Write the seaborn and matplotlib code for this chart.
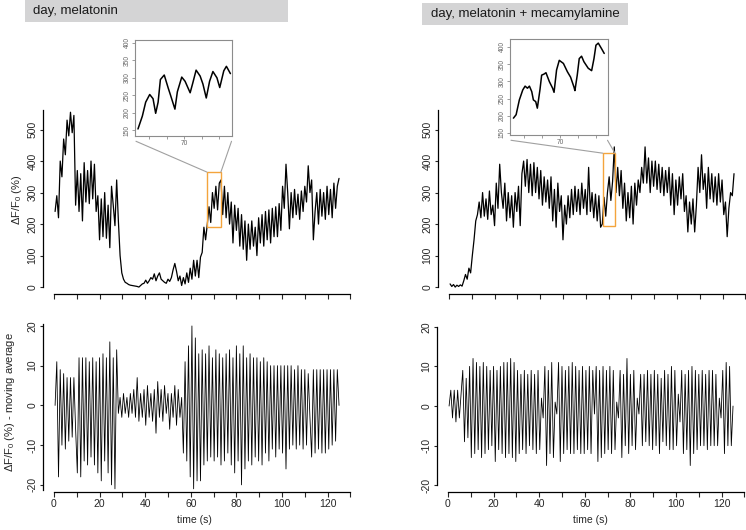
import matplotlib
matplotlib.use("Agg")
import matplotlib.pyplot as plt
from matplotlib.patches import Rectangle, ConnectionPatch
import numpy as np
import seaborn as sns

# traces are sampled every 0.75 s starting at 0.5 s (alternating peak / trough)
t_start = 0.5
t_step = 0.75

# ΔF/F0 (%), day, melatonin
mel_trace = [
    240, 290, 220, 400, 350, 470, 420, 530, 480, 555, 490, 545,
    260, 370, 240, 360, 210, 395, 270, 370, 265, 400, 280, 390, 240,
    290, 150, 280, 160, 300, 155, 260, 125, 320, 260, 195, 340,
    210, 100, 45, 25, 15, 12, 8, 6, 5, 4, 3, 2, 0, 5, 10, 12, 22, 12, 20, 30,
    25, 42, 20, 35, 45, 25, 20, 15, 12, 25, 18, 30, 55, 75, 50, 20, 35, 5, 30, 10,
    45, 15, 60, 25, 85, 35, 85, 30, 95, 110, 190, 150,
    200, 255, 205, 300, 250, 320, 245, 330,
    340, 230, 320, 220, 300, 200, 270, 140, 260, 180, 250, 130, 230, 120, 210, 85,
    200, 120, 210, 130, 190, 100,
    220, 140, 230, 130, 240, 150, 245, 140, 250, 160, 255, 160, 265, 180, 320, 250,
    390, 300, 185,
    300, 220, 310, 230, 295, 215, 305, 240, 320, 270, 385, 300, 340, 150,
    240, 300, 200, 310, 225, 300, 215, 320, 230, 310, 220, 330, 250, 320, 345,
]

# ΔF/F0 (%), day, melatonin + mecamylamine
mec_trace = [
    10, 2, 8, 0, 6, 2, 7, 3,
    20, 40, 25, 60, 45, 100, 150, 210, 230,
    270, 220, 300, 225, 280, 215, 305, 230, 260, 195, 330, 250, 390,
    300, 250, 330, 210, 300, 220, 290, 190, 300, 240, 320, 195,
    360, 400, 320, 405, 300, 390, 290, 395, 300, 380, 280, 370,
    260, 350, 270, 340, 250, 350, 210, 310, 190, 330, 240, 290,
    150, 260, 200, 290, 220, 310, 230, 320, 240, 310, 230, 330, 250, 310, 230, 380,
    240, 300, 220, 295, 210, 290, 190,
    200, 285, 225, 300, 350, 275, 335, 445,
    300, 380, 290, 370, 250, 330, 210, 300, 220, 320, 200, 330, 260, 340, 300, 380, 330,
    445, 330, 410, 300, 400, 320, 400, 310, 390, 300, 380, 290, 370, 300, 380, 260,
    360, 230, 340, 260, 350, 280, 360, 240, 290, 175, 270, 200, 280, 175, 260,
    380, 300, 420, 310, 360, 250, 380, 280, 360, 270, 350, 260, 360, 270, 340, 230,
    270, 160, 250, 300, 290, 360,
]

# ΔF/F0 (%) - moving average, melatonin
mel_detr = [
    0, 11, -18, 9, -10, 8, -11, 7, -9, 7, -8, 7, -6,
    -17, 12, -18, 12, -14, 12, -15, 11, -13, 12, -15, 11, -17, 12, -19, 13,
    -14, 12, -17, 16, -20, 12, -21, 14,
    -2, 2, -3, 3, -2, 2, -3, 3, -2, 4, -3, 7, -4, 3, -3, 4, -5, 5, -3, 3,
    -4, 4, -7, 6, -3, 4, -4, 5, -2, 3, -6, 3, -3, 5, -5, 4, -3, 2, -12, 11,
    -14, 15, -18, 20, -21, 17, -19, 13, -19, 14, -15, 13, -14, 15, -13, 12,
    -14, 14, -13, 13, -15, 12, -14, 13, -12, 14, -15, 12, -17, 15, -14, 13,
    -20, 15, -16, 12, -14, 13, -15, 12, -13, 12, -14, 11, -15, 12, -12, 11,
    -14, 10, -11, 10, -13, 10, -11, 10, -12,
    10, -16, 10, -11, 10, -10, 9, -11, 10, -10, 9, -11, 9, -10, 8, -3,
    -13, 9, -12, 9, -11, 9, -12, 9, -12, 9, -11, 9, -10, 9, -9, 9, 0,
]

# ΔF/F0 (%) - moving average, melatonin + mecamylamine
mec_detr = [
    0, 4, -3, 4, -4, 4, -3, 3,
    9, -9, 7, -8, 10, -13,
    12, -12, 11, -11, 10, -13, 11, -12, 10, -11,
    9, -10, 10, -14, 9, -11, 10, -12, 11, -13,
    11, -12, 12, -13, 11, -14, 9, -12, 8, -11,
    9, -12, 8, -10, 9, -11, 8, -12, 9, -11,
    2, -3, 10, -15, 9, -12, 11, -13, 1, -2,
    11, -14, 10, -12, 9, -11, 10, -12, 11, -12,
    10, -11, 9, -12, 10, -12, 9, -11, 10, -12,
    9, -2, 10, -14, 9, -13, 10, -12, 9, -11,
    10, -12, 9, -11, 1, -3, 9, -13, 8, -10,
    12, -12, 8, -10, 9, -11, 2, -2, 8, -10,
    8, -9, 9, -10, 8, -11, 9, -10, 8, -12,
    7, -9, 9, -10, 8, -11, 10, -11, 9, -10,
    3, -4, 9, -12, 8, -11, 9, -15, 10, -12,
    9, -11, 8, -10, 9, -10, 8, -11, 9, -10,
    9, -10, 8, -10, 2, -3, 9, -12, 11, -10,
    10, -10, 0,
]

# zoomed segments shown in the insets
mel_zoom_t = [67.37, 67.62, 67.81, 68.04, 68.23, 68.38, 68.52, 68.65, 68.87, 69.10,
              69.23, 69.48, 69.62, 69.87, 70.06, 70.35, 70.50, 70.69, 70.92, 71.08,
              71.27, 71.46, 71.65, 71.88, 72.04, 72.27, 72.42, 72.65]
mel_zoom_v = [153, 190, 230, 252, 240, 198, 230, 295, 308, 270,
              250, 210, 260, 302, 290, 257, 285, 322, 305, 282,
              242, 290, 318, 300, 272, 320, 333, 312]
mec_zoom_t = [67.41, 67.56, 67.74, 67.93, 68.06, 68.19, 68.30, 68.43, 68.52, 68.65,
              68.74, 68.89, 68.98, 69.11, 69.22, 69.41, 69.59, 69.67, 69.81, 69.96,
              70.19, 70.41, 70.59, 70.78, 70.83, 70.96, 71.07, 71.20, 71.33, 71.57,
              71.76, 71.89, 72.00, 72.13, 72.31, 72.46]
mec_zoom_v = [193, 203, 246, 275, 286, 280, 286, 270, 246, 241,
              222, 277, 318, 321, 325, 299, 280, 268, 333, 361,
              352, 328, 312, 283, 273, 318, 366, 373, 357, 338,
              331, 366, 405, 411, 395, 381]

# zoom windows (t0, t1, v0, v1)
mel_window = (67.1, 73.2, 190, 365)
mec_window = (67.5, 72.8, 194, 425)

W, H = 746, 530
sns.set_style("ticks")
plt.rcParams['font.family'] = ['Liberation Sans', 'DejaVu Sans']
plt.rcParams['mathtext.fontset'] = 'custom'
plt.rcParams['mathtext.rm'] = 'Liberation Sans'

fig = plt.figure(figsize=(W / 100, H / 100), dpi=100)


def px_rect(x0, y0, x1, y1):
    return [x0 / W, 1 - y1 / H, (x1 - x0) / W, (y1 - y0) / H]


def style_main(ax, ylim, ybounds, yticks, xlabels):
    sns.despine(ax=ax)
    ax.set_xlim(-4.8, 131)
    ax.set_ylim(*ylim)
    ax.spines['left'].set_bounds(*ybounds)
    ax.spines['bottom'].set_bounds(0, 130)
    for s in ('left', 'bottom'):
        ax.spines[s].set_linewidth(0.9)
        ax.spines[s].set_color('black')
    ax.set_xticks(np.arange(0, 131, 10))
    if xlabels:
        ax.set_xticklabels([str(v) if v % 20 == 0 else '' for v in range(0, 131, 10)])
    else:
        ax.set_xticklabels([])
    ax.set_yticks(yticks)
    ax.set_yticklabels([str(v) for v in yticks])
    ax.tick_params(axis='x', length=3.5, width=0.8, pad=1.5, labelsize=7.5)
    ax.tick_params(axis='y', length=2.5, width=0.8, pad=1.5, labelsize=7.5, labelrotation=90)
    for lab in ax.get_yticklabels():
        lab.set_va('center')
    ax.set_xlabel('')
    ax.set_ylabel('')


def add_inset(ax, rect, zt, zv, xlim, ylim, window):
    ins = fig.add_axes(px_rect(*rect))
    sns.lineplot(x=zt, y=zv, ax=ins, color='black', linewidth=1.1,
                 estimator=None, sort=False)
    ins.set_xlim(*xlim)
    ins.set_ylim(*ylim)
    ins.set_xticks([68, 69, 70, 71, 72])
    ins.set_xticklabels(['', '', '70', '', ''])
    ins.set_yticks(range(150, 401, 50))
    for s in ins.spines.values():
        s.set_visible(True)
        s.set_color('#8c8c8c')
        s.set_linewidth(0.8)
    ins.tick_params(colors='#8c8c8c', labelcolor='#666666', labelsize=4.8,
                    length=2, width=0.6, pad=1)
    ins.tick_params(axis='y', labelrotation=90)
    for lab in ins.get_yticklabels():
        lab.set_va('center')
    ins.set_xlabel('')
    ins.set_ylabel('')
    t0, t1, v0, v1 = window
    ax.add_patch(Rectangle((t0, v0), t1 - t0, v1 - v0, fill=False,
                           edgecolor='#f4a43c', linewidth=1.0, zorder=5))
    for xa, xb in ((0.01, t0), (0.995, t1)):
        con = ConnectionPatch(xyA=(xa, -0.055), coordsA=ins.transAxes,
                              xyB=(xb, v1), coordsB=ax.transData,
                              color='#a0a0a0', linewidth=0.8)
        fig.add_artist(con)
    return ins


times = t_start + t_step * np.arange(len(mel_trace))
times_b = t_start + t_step * np.arange(len(mec_trace))
times_c = t_start + t_step * np.arange(len(mel_detr))
times_d = t_start + t_step * np.arange(len(mec_detr))

# top left
ax1 = fig.add_axes(px_rect(43, 105, 352.7, 294))
sns.lineplot(x=times, y=mel_trace, ax=ax1, color='black', linewidth=0.9,
             estimator=None, sort=False)
style_main(ax1, (-22, 578), (0, 562), range(0, 501, 100), False)

# top right
ax2 = fig.add_axes(px_rect(438, 105, 747.7, 294))
sns.lineplot(x=times_b, y=mec_trace, ax=ax2, color='black', linewidth=0.9,
             estimator=None, sort=False)
style_main(ax2, (-22, 578), (0, 562), range(0, 501, 100), False)

# bottom left
ax3 = fig.add_axes(px_rect(43, 320, 352.7, 492))
sns.lineplot(x=times_c, y=mel_detr, ax=ax3, color='black', linewidth=0.6,
             estimator=None, sort=False)
style_main(ax3, (-21.8, 21.5), (-21.3, 20.5), [-20, -10, 0, 10, 20], True)

# bottom right
ax4 = fig.add_axes(px_rect(437, 320, 746.7, 491.7))
sns.lineplot(x=times_d, y=mec_detr, ax=ax4, color='black', linewidth=0.6,
             estimator=None, sort=False)
style_main(ax4, (-21.6, 21.7), (-20, 20), [-20, -10, 0, 10, 20], True)

add_inset(ax1, (135, 40, 232, 136), mel_zoom_t, mel_zoom_v,
          (67.2, 72.74), (132.8, 408.6), mel_window)
add_inset(ax2, (510, 39, 608, 135), mec_zoom_t, mec_zoom_v,
          (67.22, 72.67), (144, 423), mec_window)

# panel titles on gray bars
for (x0, y0, x1, y1, tx, ty, txt) in (
        (25, 0, 288, 21.7, 33, 10.8, 'day, melatonin'),
        (422, 3.3, 628, 25, 431, 14.2, 'day, melatonin + mecamylamine')):
    fig.patches.append(Rectangle((x0 / W, 1 - y1 / H), (x1 - x0) / W, (y1 - y0) / H,
                                 transform=fig.transFigure, facecolor='#d4d4d5',
                                 edgecolor='none'))
    fig.text(tx / W, 1 - ty / H, txt, ha='left', va='center', fontsize=9.5,
             color='#1a1a1a')

ylab = r'$\Delta$F/F$\mathregular{_0}$ (%)'
fig.text(17 / W, 1 - 200 / H, ylab, rotation=90, ha='center', va='center',
         fontsize=8)
fig.text(10 / W, 1 - 402 / H, ylab + ' - moving average', rotation=90,
         ha='center', va='center', fontsize=8)
fig.text(194 / W, 1 - 520 / H, 'time (s)', ha='center', va='center', fontsize=7.5)
fig.text(590 / W, 1 - 520 / H, 'time (s)', ha='center', va='center', fontsize=7.5)

fig.savefig('out.png', dpi=100)
